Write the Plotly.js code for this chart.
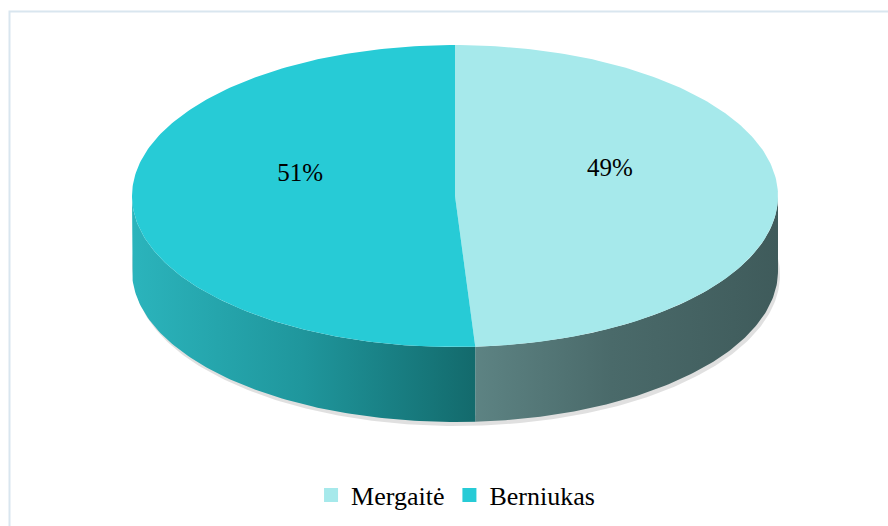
<!DOCTYPE html>
<html>
<head>
<meta charset="utf-8">
<script src="https://cdn.plot.ly/plotly-3.0.1.min.js"></script>
<style>html,body{margin:0;padding:0;background:#fff;}#chart{width:888px;height:526px;}</style>
</head>
<body>
<div id="chart"></div>
<script>
// ---- data ----
var categories = ["Mergaitė", "Berniukas"];
var values = [49, 51];
// ---- style ----
var topColors = ["#a6e9eb", "#27cbd6"];
var sideGradients = [
  [[0, "#5d8383"], [0.45, "#4a6a6a"], [1, "#3f5b5b"]],
  [[0, "#2bb4bc"], [0.5, "#1f969c"], [1, "#136a6c"]]
];
var FONT = "Times New Roman, Liberation Serif, DejaVu Serif, serif";

// ellipse geometry (pixel units, y down)
var cx = 455, cy = 196, rx = 323, ry = 151, depth = 75;
function pt(t, dy) {
  var a = 2 * Math.PI * t;
  return [cx + rx * Math.sin(a), cy - ry * Math.cos(a) + (dy || 0)];
}
function arc(t0, t1, dy) {
  var n = Math.max(4, Math.ceil(Math.abs(t1 - t0) * 400));
  var xs = [], ys = [];
  for (var i = 0; i <= n; i++) {
    var p = pt(t0 + (t1 - t0) * i / n, dy);
    xs.push(p[0]); ys.push(p[1]);
  }
  return [xs, ys];
}

var total = values.reduce(function (a, b) { return a + b; }, 0);
var bounds = [];
var acc = 0;
for (var i = 0; i < values.length; i++) {
  var t0 = acc / total; acc += values[i]; var t1 = acc / total;
  bounds.push([t0, t1]);
}

var traces = [];

// shadow under the side
(function () {
  var a = arc(0.23, 0.77, depth + 4);
  var b = arc(0.77, 0.23, depth - 6);
  traces.push({
    x: a[0].map(function (v) { return v + 2; }).concat(b[0]),
    y: a[1].concat(b[1]),
    mode: "lines", fill: "toself", line: { width: 0 },
    fillcolor: "rgba(0,0,0,0.12)", hoverinfo: "skip", showlegend: false
  });
})();

// side faces (visible front half t in [0.25, 0.75])
for (var i = 0; i < values.length; i++) {
  var s0 = Math.max(bounds[i][0], 0.25), s1 = Math.min(bounds[i][1], 0.75);
  if (s1 <= s0) continue;
  var upperEdge = arc(s0, s1, 0), lowerEdge = arc(s1, s0, depth);
  traces.push({
    x: upperEdge[0].concat(lowerEdge[0]), y: upperEdge[1].concat(lowerEdge[1]),
    mode: "lines", fill: "toself", line: { width: 0 },
    fillgradient: { type: "horizontal", colorscale: sideGradients[i] },
    hoverinfo: "skip", showlegend: false
  });
}

// top faces
for (var i = 0; i < values.length; i++) {
  var a = arc(bounds[i][0], bounds[i][1], 0);
  traces.push({
    x: [cx].concat(a[0]).concat([cx]), y: [cy].concat(a[1]).concat([cy]),
    mode: "lines", fill: "toself", line: { width: 0 },
    fillcolor: topColors[i], hoverinfo: "skip", showlegend: false
  });
}

// percent labels
var lx = [], ly = [], lt = [];
for (var i = 0; i < values.length; i++) {
  var tm = (bounds[i][0] + bounds[i][1]) / 2;
  var ang = 2 * Math.PI * tm;
  lx.push(cx + 0.48 * rx * Math.sin(ang));
  ly.push(cy - 0.48 * ry * Math.cos(ang) - 24);
  lt.push(Math.round(values[i] / total * 100) + "%");
}
traces.push({
  x: lx, y: ly, text: lt, mode: "text",
  textfont: { family: FONT, size: 25, color: "#000" },
  hoverinfo: "skip", showlegend: false
});

// legend entries
for (var i = 0; i < categories.length; i++) {
  traces.push({
    x: [null], y: [null], mode: "markers", name: categories[i],
    marker: { symbol: "square", size: 14, color: topColors[i], line: { width: 0 } }
  });
}

var layout = {
  width: 888, height: 526,
  margin: { l: 0, r: 0, t: 0, b: 0 },
  font: { family: FONT },
  paper_bgcolor: "#fff", plot_bgcolor: "#fff",
  xaxis: { range: [0, 888], visible: false, fixedrange: true },
  yaxis: { range: [526, 0], visible: false, fixedrange: true },
  showlegend: true,
  legend: {
    orientation: "h", x: 0.513, xanchor: "center", y: 1 - 495 / 526, yanchor: "middle",
    font: { family: FONT, size: 26, color: "#000" },
    itemwidth: 30, tracegroupgap: 0, bgcolor: "rgba(0,0,0,0)"
  },
  shapes: [{
    type: "rect", xref: "paper", yref: "paper",
    x0: 9.5 / 888, x1: 1.01, y0: -0.01, y1: 1 - 11.5 / 526,
    line: { color: "#d9e6ef", width: 2 }, fillcolor: "rgba(0,0,0,0)", layer: "below"
  }],
  hovermode: false
};

Plotly.newPlot("chart", traces, layout, { staticPlot: true, displayModeBar: false });
</script>
</body>
</html>
